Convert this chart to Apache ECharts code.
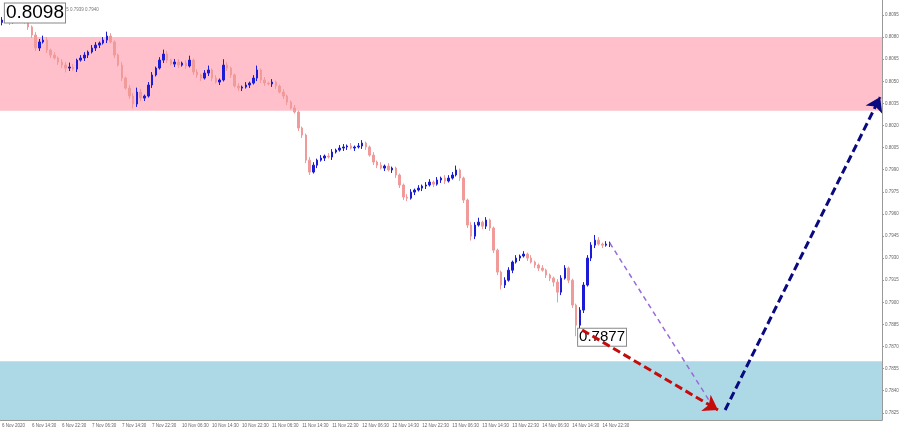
<!DOCTYPE html>
<html>
<head>
<meta charset="utf-8">
<script src="https://cdn.jsdelivr.net/npm/echarts@6/dist/echarts.min.js"></script>
<style>
  html, body { margin: 0; padding: 0; background: #fff; }
  #chart { width: 900px; height: 430px; }
</style>
</head>
<body>
<div id="chart"></div>
<script>
// USDCHF H1, hourly closes
const firstOpen = 0.80900;
const closes = [
  0.80916, 0.80930, 0.80902, 0.80943, 0.80957, 0.80930, 0.80902, 0.80869, 0.80814, 0.80726,
  0.80767, 0.80780, 0.80712, 0.80678, 0.80658, 0.80631, 0.80610, 0.80590, 0.80597, 0.80583,
  0.80644, 0.80658, 0.80678, 0.80699, 0.80726, 0.80746, 0.80760, 0.80780, 0.80807, 0.80767,
  0.80678, 0.80610, 0.80522, 0.80454, 0.80400, 0.80346, 0.80427, 0.80386, 0.80400, 0.80475,
  0.80543, 0.80590, 0.80644, 0.80685, 0.80644, 0.80617, 0.80631, 0.80610, 0.80624, 0.80604,
  0.80644, 0.80563, 0.80543, 0.80522, 0.80556, 0.80577, 0.80522, 0.80495, 0.80509, 0.80610,
  0.80590, 0.80543, 0.80468, 0.80454, 0.80461, 0.80475, 0.80488, 0.80522, 0.80577, 0.80509,
  0.80488, 0.80482, 0.80495, 0.80468, 0.80427, 0.80400, 0.80359, 0.80319, 0.80291, 0.80183,
  0.80135, 0.79965, 0.79884, 0.79931, 0.79965, 0.79979, 0.79993, 0.79986, 0.80020, 0.80033,
  0.80047, 0.80054, 0.80061, 0.80047, 0.80054, 0.80061, 0.80081, 0.80054, 0.79999, 0.79952,
  0.79931, 0.79911, 0.79925, 0.79898, 0.79911, 0.79864, 0.79796, 0.79714, 0.79707, 0.79748,
  0.79762, 0.79775, 0.79789, 0.79796, 0.79816, 0.79802, 0.79830, 0.79843, 0.79823, 0.79843,
  0.79864, 0.79898, 0.79843, 0.79694, 0.79524, 0.79449, 0.79524, 0.79544, 0.79517, 0.79558,
  0.79504, 0.79354, 0.79205, 0.79117, 0.79150, 0.79218, 0.79273, 0.79300, 0.79314, 0.79327,
  0.79300, 0.79273, 0.79253, 0.79232, 0.79218, 0.79185, 0.79164, 0.79137, 0.79069, 0.79164,
  0.79232, 0.79150, 0.78981, 0.78845, 0.78947, 0.79117, 0.79300, 0.79388, 0.79422, 0.79395,
  0.79388, 0.79395, 0.79402
];
// wick lengths in pips
const wickUp = [
  2,3,2,3,2,1,2,2,1,2, 2,3,2,1,2,1,2,2,3,2, 1,2,2,1,2,2,1,2,3,2, 1,1,2,1,2,2,3,2,1,2,
  2,1,2,3,2,1,2,2,1,2, 3,1,2,1,2,3,1,2,1,4, 2,1,1,2,1,2,1,2,3,1, 2,1,2,1,1,2,1,1,2,1,
  1,1,2,2,1,2,1,2,2,1, 2,2,1,2,1,2,2,1,1,2, 1,2,1,2,1,1,1,1,2,2, 1,2,1,2,2,1,2,1,2,2,
  2,3,1,1,1,2,2,3,1,2, 1,1,1,1,2,2,1,2,1,2, 1,2,1,1,2,1,1,1,2,2, 2,1,1,1,2,2,2,2,3.5,2,
  1,2,1
];
const wickDn = [
  2,2,2,1,2,2,1,2,2,2, 2,1,2,2,1,2,2,3,2,1, 2,1,2,2,1,2,2,1,2,1, 2,1,2,1,2,3,2,2,2,1,
  2,1,1,2,2,1,2,2,1,2, 1,2,2,2,1,2,2,1,2,1, 2,2,1,2,2,1,2,1,2,2, 2,1,2,2,1,2,2,1,1,2,
  2,2,2,1,2,1,2,1,2,1, 1,2,2,1,2,1,2,2,1,2, 2,1,2,1,2,2,2,2,2,1, 2,1,2,2,1,2,1,2,2,1,
  1,1,2,2,2,3,2,1,2,2, 2,2,2,3,2,1,2,1,2,1, 2,1,2,2,1,2,2,3,7,2, 1,2,2,7.5,2,2,1,2,2,1,
  2,1,2
];
// time labels, one every 8 bars
const timeLabels = [
  '6 Nov 2020', '6 Nov 14:30', '6 Nov 22:30', '7 Nov 06:30', '7 Nov 14:30', '7 Nov 22:30',
  '10 Nov 06:30', '10 Nov 14:30', '10 Nov 22:30', '11 Nov 06:30', '11 Nov 14:30', '11 Nov 22:30',
  '12 Nov 06:30', '12 Nov 14:30', '12 Nov 22:30', '13 Nov 06:30', '13 Nov 14:30', '13 Nov 22:30',
  '14 Nov 06:30', '14 Nov 14:30', '14 Nov 22:30'
];
const priceTicks = [
  0.7825, 0.7840, 0.7855, 0.7870, 0.7885, 0.7900, 0.7915, 0.7930, 0.7945, 0.7960,
  0.7975, 0.7990, 0.8005, 0.8020, 0.8035, 0.8050, 0.8065, 0.8080, 0.8095
];
const totalSlots = 235;           // bars + empty space on the right
const priceMin = 0.78201, priceMax = 0.81052;
const resistZone = [0.8080, 0.8030];
const supportZone = [0.7860, priceMin];
// forecast arrows [bar index, price]
const pathPurple = [[162, 0.79402], [189.2, 0.78303]];
const pathRed = [[154.6, 0.78812], [190.8, 0.78269]];
const pathNavy = [[192.7, 0.78269], [234.0, 0.80393]];
const headerText = '\u25BE USDCHF,H1  0.7949 0.7955 0.7939 0.7940';

const categories = [];
for (let i = 0; i < totalSlots; i++) {
  categories.push(i % 8 === 0 && i / 8 < timeLabels.length ? timeLabels[i / 8] : '');
}
const ohlc = closes.map((c, i) => {
  const o = i ? closes[i - 1] : firstOpen;
  return [o, c, Math.min(o, c) - wickDn[i] * 1e-4, Math.max(o, c) + wickUp[i] * 1e-4];
});
const lastIdx = closes.length - 1;
const lastClose = closes[lastIdx];

const chart = echarts.init(document.getElementById('chart'));
const font = 'Liberation Sans';

chart.setOption({
  animation: false,
  backgroundColor: '#fff',
  title: {
    text: headerText, left: 3, top: 2, z: 0,
    textStyle: { fontSize: 4.5, color: '#777', fontWeight: 'normal', fontFamily: font }
  },
  grid: { left: 0, right: 18, top: 0, bottom: 10, containLabel: false, outerBoundsMode: 'none' },
  xAxis: [{
    type: 'category',
    data: categories,
    boundaryGap: true,
    axisLine: { onZero: false, lineStyle: { color: '#999' } },
    axisTick: { interval: 7, alignWithLabel: true, length: 3, lineStyle: { color: '#999' } },
    axisLabel: {
      interval: 7, showMinLabel: true, hideOverlap: false,
      fontSize: 4.5, color: '#666', align: 'left', margin: 3, fontFamily: font
    },
    splitLine: { show: false }
  }, {
    type: 'value', show: false, min: -0.5, max: totalSlots - 0.5
  }],
  yAxis: {
    type: 'value',
    position: 'right',
    min: priceMin,
    max: priceMax,
    axisLine: { show: true, onZero: false, lineStyle: { color: '#999' } },
    axisTick: { show: true, length: 2, customValues: priceTicks, lineStyle: { color: '#999' } },
    axisLabel: {
      customValues: priceTicks, fontSize: 4.5, color: '#666', margin: 3, fontFamily: font,
      formatter: v => v.toFixed(4)
    },
    splitLine: { show: false }
  },
  series: [{
    name: 'zones',
    type: 'line',
    data: [],
    z: 1,
    silent: true,
    markArea: {
      silent: true,
      data: [
        [{ yAxis: resistZone[0], itemStyle: { color: '#ffc0cb' } }, { yAxis: resistZone[1] }],
        [{ yAxis: supportZone[0], itemStyle: { color: '#add8e6' } }, { yAxis: supportZone[1] }]
      ]
    }
  }, {
    name: 'USDCHF',
    type: 'candlestick',
    data: ohlc,
    z: 3,
    barWidth: 2,
    itemStyle: {
      color: '#1c1cd6', borderColor: '#1c1cd6',
      color0: '#f09a9a', borderColor0: '#f09a9a',
      borderWidth: 1
    },
    markPoint: {
      symbol: 'circle', symbolSize: 1,
      itemStyle: { color: 'rgba(0,0,0,0)' },
      data: [{
        type: 'max', valueDim: 'highest',
        label: {
          position: 'inside', align: 'left', verticalAlign: 'middle', offset: [-12, 2],
          formatter: p => p.value.toFixed(4),
          fontSize: 19, color: '#000', fontFamily: font,
          backgroundColor: '#fff', borderColor: '#888', borderWidth: 1, padding: [0, 1]
        }
      }, {
        type: 'min', valueDim: 'lowest',
        label: {
          position: 'inside', align: 'left', verticalAlign: 'middle', offset: [2, 1],
          formatter: p => p.value.toFixed(4),
          fontSize: 15, color: '#000', fontFamily: font,
          backgroundColor: '#fff', borderColor: '#888', borderWidth: 1, padding: [1, 1]
        }
      }]
    }
  }, {
    name: 'bid',
    type: 'lines',
    coordinateSystem: 'cartesian2d',
    xAxisIndex: 1,
    yAxisIndex: 0,
    zlevel: 1,
    silent: true,
    symbol: 'none',
    lineStyle: { color: 'rgba(0,0,0,0)', width: 1, opacity: 1 },
    label: {
      show: true, position: 'end', distance: 2, fontSize: 4.5, color: '#fff', fontFamily: font,
      backgroundColor: '#222', padding: [1, 2],
      formatter: () => lastClose.toFixed(4)
    },
    data: [{ coords: [[lastIdx, lastClose], [totalSlots - 0.5, lastClose]] }]
  }, {
    name: 'forecast',
    type: 'lines',
    coordinateSystem: 'cartesian2d',
    xAxisIndex: 1,
    yAxisIndex: 0,
    zlevel: 1,
    z: 5,
    silent: true,
    symbol: ['none', 'arrow'],
    symbolSize: 14,
    data: [
      { coords: pathPurple, symbol: ['none', 'none'], lineStyle: { color: '#9a6ad8', width: 1.5, type: [5, 4], opacity: 1 } },
      { coords: pathRed, lineStyle: { color: '#c40c0c', width: 3, type: [8, 4], opacity: 1 } },
      { coords: pathNavy, lineStyle: { color: '#0a0a80', width: 3, type: [8, 4], opacity: 1 } }
    ]
  }]
});
</script>
</body>
</html>
